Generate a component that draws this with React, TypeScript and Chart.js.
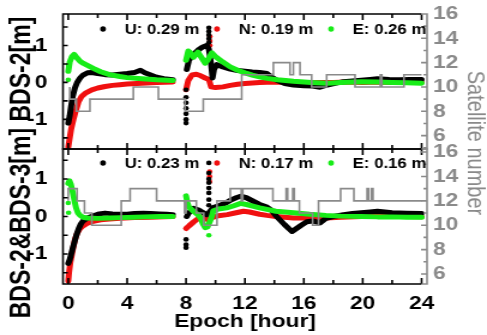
import React, { useEffect, useRef } from 'react';
import { Chart, registerables } from 'chart.js';
Chart.register(...registerables);

type P = [number, number | null];

// ---------- tick values ----------
const hourTickLabels = [0, 4, 8, 12, 16, 20, 24];
const hourMinorTicks = [0, 2, 4, 6, 8, 10, 12, 14, 16, 18, 20, 22, 24];
const errTickLabels = [-1, 0, 1];
const errMinorTicks = [-1.5, -1, -0.5, 0, 0.5, 1, 1.5];
const satTickLabels = [6, 8, 10, 12, 14, 16];
const satMinorTicks = [5, 6, 7, 8, 9, 10, 11, 12, 13, 14, 15, 16];

// ---------- legend labels ----------
const legendTop = ['U: 0.29 m', 'N: 0.19 m', 'E: 0.26 m'];
const legendBottom = ['U: 0.23 m', 'N: 0.17 m', 'E: 0.16 m'];

// ---------- top panel (BDS-2) ----------
const topU: P[] = [[0.0,-1.1],[0.1,-0.9],[0.2,-0.62],[0.3,-0.38],[0.45,-0.15],[0.6,0.0],[0.8,0.12],[1.0,0.2],[1.3,0.26],[1.6,0.27],[2.0,0.24],[2.5,0.21],[3.0,0.2],[3.5,0.22],[4.0,0.24],[4.5,0.27],[4.9,0.33],[5.2,0.26],[5.6,0.2],[6.0,0.14],[6.5,0.1],[7.1,0.07],[7.5,null],[8.05,0.35],[8.2,0.6],[8.5,0.75],[8.8,0.87],[9.1,0.95],[9.4,1.0],[9.55,0.9],[9.7,0.5],[9.8,0.12],[9.9,0.35],[10.1,0.48],[10.5,0.42],[11.0,0.36],[11.5,0.32],[12.0,0.3],[12.5,0.28],[13.0,0.27],[13.5,0.24],[13.8,0.15],[14.2,0.05],[14.7,-0.03],[15.3,-0.07],[16.0,-0.09],[16.6,-0.1],[17.1,-0.13],[17.6,-0.07],[18.2,-0.02],[18.7,0.02],[19.3,0.04],[19.9,0.06],[20.5,0.08],[21.0,0.1],[21.8,0.08],[22.5,0.07],[23.2,0.08],[24.0,0.08]];
const topN: P[] = [[0.0,-1.75],[0.1,-1.5],[0.2,-1.25],[0.35,-1.0],[0.5,-0.78],[0.7,-0.52],[0.9,-0.38],[1.2,-0.28],[1.6,-0.2],[2.0,-0.15],[2.5,-0.11],[3.0,-0.08],[3.5,-0.06],[4.0,-0.04],[5.0,-0.02],[6.0,0.0],[7.1,0.01],[7.5,null],[8.0,-0.2],[8.15,0.05],[8.4,0.2],[8.7,0.22],[9.0,0.18],[9.3,0.12],[9.55,0.08],[9.7,-0.12],[10.0,-0.14],[10.5,-0.12],[11.0,-0.08],[11.5,-0.05],[12.0,-0.03],[13.0,0.0],[14.0,0.01],[15.0,0.0],[16.0,-0.01],[17.0,0.0],[18.0,0.0],[19.0,0.01],[20.0,0.0],[21.0,0.01],[22.0,0.0],[23.0,0.01],[24.0,0.0]];
const topE: P[] = [[0.0,0.3],[0.1,0.55],[0.25,0.7],[0.4,0.76],[0.6,0.66],[0.8,0.57],[1.0,0.52],[1.3,0.46],[1.7,0.38],[2.2,0.29],[2.8,0.21],[3.5,0.16],[4.0,0.13],[5.0,0.1],[6.0,0.07],[7.1,0.05],[7.5,null],[8.0,0.6],[8.15,0.85],[8.3,0.8],[8.5,0.68],[8.8,0.82],[9.0,0.7],[9.3,0.52],[9.5,0.62],[9.75,0.8],[10.0,0.7],[10.5,0.55],[11.0,0.42],[11.5,0.33],[12.0,0.26],[12.5,0.2],[13.0,0.15],[13.5,0.11],[14.2,0.07],[15.3,0.03],[16.5,0.0],[17.6,-0.02],[18.5,0.0],[19.9,0.02],[21.0,0.01],[22.0,0.0],[23.0,-0.01],[24.0,-0.02]];
const topUOut: P[] = [[8.0,-0.2],[8.0,-0.4],[8.0,-0.55],[8.0,-0.7],[8.0,-0.85],[8.0,-1.0],[8.0,-1.1],[9.55,1.48],[9.55,1.38],[9.55,1.28],[9.55,1.18],[9.55,1.08]];
const topNOut: P[] = [[9.62,1.24],[9.62,1.12],[9.62,1.0]];
const topEOut: P[] = [[0.0,0.07],[0.02,0.45]];
const topSat: P[] = [[0.1,10],[0.55,9],[1.47,8],[4.42,9],[6.12,10],[7.93,9],[9.17,8],[11.78,9],[13.93,11],[15.06,12],[15.29,11],[15.74,12],[16.53,11],[17.55,10],[19.48,11],[21.2,10],[21.3,11],[22.8,10],[23.5,11],[24.0,11]];

// ---------- bottom panel (BDS-2&BDS-3) ----------
const botU: P[] = [[0.0,-1.25],[0.1,-1.15],[0.2,-1.0],[0.3,-0.85],[0.42,-0.68],[0.55,-0.5],[0.7,-0.33],[0.85,-0.2],[1.0,-0.12],[1.3,-0.04],[1.7,0.02],[2.1,0.07],[2.5,0.09],[3.0,0.07],[3.5,0.06],[4.0,0.06],[4.5,0.08],[5.1,0.09],[5.6,0.08],[6.2,0.07],[6.7,0.06],[7.1,0.05],[7.5,null],[8.05,0.0],[8.2,0.1],[8.5,0.22],[8.8,0.18],[9.0,0.14],[9.4,0.05],[9.55,0.1],[9.85,0.24],[10.3,0.3],[10.7,0.36],[11.0,0.43],[11.4,0.5],[11.7,0.54],[12.1,0.5],[12.5,0.42],[13.0,0.32],[13.5,0.25],[13.8,0.17],[14.1,0.02],[14.4,-0.1],[14.7,-0.22],[15.0,-0.33],[15.2,-0.4],[15.5,-0.32],[15.8,-0.24],[16.2,-0.14],[16.6,-0.12],[17.1,-0.17],[17.5,-0.05],[18.0,0.0],[18.7,0.05],[19.3,0.08],[19.9,0.1],[20.5,0.12],[21.0,0.14],[21.5,0.12],[22.0,0.1],[23.0,0.09],[24.0,0.08]];
const botN: P[] = [[0.0,-1.72],[0.05,-1.5],[0.15,-1.2],[0.3,-0.9],[0.45,-0.62],[0.6,-0.45],[0.8,-0.32],[1.0,-0.25],[1.3,-0.18],[1.7,-0.13],[2.2,-0.09],[2.8,-0.07],[3.5,-0.05],[4.5,-0.03],[5.5,-0.02],[6.5,-0.01],[7.1,0.0],[7.5,null],[8.0,-0.32],[8.2,-0.25],[8.5,-0.15],[8.8,-0.06],[9.0,-0.03],[9.3,-0.06],[9.5,-0.08],[9.75,-0.03],[10.2,0.02],[10.8,0.05],[11.4,0.1],[11.9,0.14],[12.3,0.12],[13.0,0.06],[13.5,0.03],[14.1,0.0],[14.7,-0.02],[15.3,-0.04],[16.0,-0.04],[16.8,-0.05],[17.5,-0.04],[18.5,-0.02],[19.9,0.0],[21.0,0.0],[22.0,0.0],[23.0,0.0],[24.0,-0.01]];
const botE: P[] = [[0.0,0.88],[0.08,0.95],[0.18,0.85],[0.3,0.65],[0.42,0.42],[0.53,0.23],[0.65,0.1],[0.8,0.03],[1.0,-0.02],[1.3,-0.04],[2.0,-0.05],[2.8,-0.04],[3.5,-0.03],[4.5,-0.02],[5.1,-0.01],[6.2,0.0],[7.1,0.0],[7.5,null],[8.0,0.55],[8.1,0.35],[8.2,0.25],[8.5,0.14],[8.8,0.05],[9.0,-0.05],[9.15,-0.2],[9.3,-0.3],[9.45,-0.28],[9.6,-0.15],[9.75,0.0],[9.85,0.15],[10.2,0.2],[10.76,0.23],[11.2,0.28],[11.7,0.35],[12.1,0.32],[12.6,0.27],[13.0,0.23],[13.5,0.19],[14.1,0.14],[14.7,0.12],[15.3,0.1],[16.4,0.06],[17.5,0.03],[18.5,0.01],[19.9,0.0],[21.0,-0.01],[22.0,-0.01],[23.0,-0.02],[24.0,-0.02]];
const botUOut: P[] = [[8.0,-0.61],[8.0,-0.75],[8.0,-0.83],[9.55,1.43],[9.55,1.16],[9.55,1.0],[9.55,0.9],[9.55,0.76],[9.55,0.63],[9.55,0.45],[9.55,0.3]];
const botNOut: P[] = [[9.6,1.2],[9.6,1.07],[9.6,0.93]];
const botEOut: P[] = [[0.0,0.36],[0.02,0.1],[9.55,-0.5]];
const botSat: P[] = [[0.0,12],[0.6,13],[1.1,12],[1.6,11],[3.6,10],[4.2,12],[6.0,13],[7.9,12],[8.0,11],[8.7,12],[9.2,11],[10.1,10],[11.0,12],[11.75,13],[11.85,12],[13.9,13],[14.8,12],[14.9,13],[15.25,12],[15.35,13],[15.7,12],[16.6,11],[17.0,10],[18.5,12],[19.4,13],[20.3,12],[20.4,13],[20.6,12],[20.7,13],[23.1,12],[24.0,12]];

const BLACK = '#000000';
const RED = '#f01010';
const GREEN = '#18ec18';
const GREY = '#8a8a8a';
const FONT = '"Liberation Sans", Arial, sans-serif';

const toXY = (arr: P[]) => arr.map(([x, y]) => ({ x, y }));

const framePlugin = {
  id: 'frame',
  afterDatasetsDraw(chart: any, _a: any, o: any) {
    const ctx = chart.ctx;
    const xs = chart.scales.x;
    const L = xs.left, R = xs.right;
    const xe = xs.getPixelForValue(24);
    for (const p of o.panels) {
      const ys = chart.scales[p.y];
      const rs = chart.scales[p.r];
      const T = ys.top, B = ys.bottom;
      ctx.save();
      ctx.lineWidth = 1.6;
      ctx.strokeStyle = '#000';
      ctx.beginPath();
      ctx.moveTo(xe, T); ctx.lineTo(L, T); ctx.lineTo(L, B); ctx.lineTo(xe, B);
      for (const v of hourMinorTicks) {
        const px = xs.getPixelForValue(v);
        const len = v % 4 === 0 ? 6 : 4;
        ctx.moveTo(px, T); ctx.lineTo(px, T + len);
        ctx.moveTo(px, B); ctx.lineTo(px, B - len);
      }
      for (const v of errMinorTicks) {
        const py = ys.getPixelForValue(v);
        ctx.moveTo(L, py); ctx.lineTo(L + 4, py);
      }
      ctx.stroke();
      ctx.strokeStyle = GREY;
      ctx.beginPath();
      ctx.moveTo(xe, T); ctx.lineTo(R, T); ctx.lineTo(R, B); ctx.lineTo(xe, B);
      for (const v of satMinorTicks) {
        const py = rs.getPixelForValue(v);
        if (py < T - 0.5 || py > B + 0.5) continue;
        ctx.moveTo(R, py); ctx.lineTo(R - (v % 2 === 0 ? 5 : 3), py);
      }
      ctx.stroke();
      ctx.restore();
    }
  },
};

const legendPlugin = {
  id: 'panelLegend',
  afterDatasetsDraw(chart: any, _a: any, o: any) {
    const ctx = chart.ctx;
    const xs = chart.scales.x;
    ctx.save();
    ctx.font = `bold 14px ${FONT}`;
    ctx.textBaseline = 'middle';
    ctx.textAlign = 'left';
    for (const p of o.panels) {
      const ys = chart.scales[p.y];
      const y = ys.top + p.dy;
      p.labels.forEach((text: string, i: number) => {
        const mx = xs.left + o.offsets[i];
        ctx.fillStyle = p.colors[i];
        ctx.beginPath();
        ctx.ellipse(mx, y, 2.4, 2.8, 0, 0, Math.PI * 2);
        ctx.fill();
        ctx.fillStyle = '#000';
        ctx.fillText(text, mx + o.gap, y + 1);
      });
    }
    ctx.restore();
  },
};

const titlesPlugin = {
  id: 'sideTitles',
  afterDraw(chart: any, _a: any, o: any) {
    const ctx = chart.ctx;
    for (const t of o.items) {
      ctx.save();
      ctx.translate(t.x, t.y);
      ctx.rotate(t.rot);
      ctx.font = t.font;
      ctx.fillStyle = t.color;
      ctx.textAlign = 'center';
      ctx.textBaseline = 'middle';
      ctx.fillText(t.text, 0, 0);
      ctx.restore();
    }
  },
};

const lineDs = (label: string, data: P[], yAxisID: string, color: string, order: number) => ({
  type: 'line' as const,
  label,
  data: toXY(data),
  yAxisID,
  xAxisID: 'x',
  borderColor: color,
  backgroundColor: color,
  borderWidth: 5,
  borderCapStyle: 'round',
  borderJoinStyle: 'round',
  pointRadius: 0,
  tension: 0,
  spanGaps: false,
  order,
});

const dotDs = (data: P[], yAxisID: string, color: string, order: number) => ({
  type: 'scatter' as const,
  label: '',
  data: toXY(data),
  yAxisID,
  xAxisID: 'x',
  borderColor: color,
  backgroundColor: color,
  pointRadius: 2.3,
  pointBorderWidth: 0,
  showLine: false,
  order,
});

const satDs = (data: P[], yAxisID: string) => ({
  type: 'line' as const,
  label: '',
  data: toXY(data),
  yAxisID,
  xAxisID: 'x',
  borderColor: GREY,
  borderWidth: 1.6,
  pointRadius: 0,
  stepped: 'after',
  order: 0,
});

const fixTicks = (vals: number[]) => (s: any) => {
  s.ticks = vals.map((v) => ({ value: v }));
};

const fitSize = (w: number | null, h: number | null) => (s: any) => {
  if (w !== null) s.width = w;
  if (h !== null) s.height = h;
  s.paddingTop = 0;
  s.paddingBottom = 0;
  s.paddingLeft = 0;
  s.paddingRight = 0;
};

export default function App() {
  const ref = useRef<HTMLCanvasElement | null>(null);
  useEffect(() => {
    if (!ref.current) return;
    const tickFont = { family: FONT, size: 19, weight: 'bold' as const };
    const leftAxis = (min: number, max: number, weight: number) => ({
      type: 'linear',
      position: 'left',
      stack: 'err',
      stackWeight: 1,
      weight,
      min,
      max,
      afterBuildTicks: fixTicks(errTickLabels),
      afterFit: fitSize(52.5, null),
      grid: { display: false, drawTicks: false },
      border: { display: false },
      ticks: { font: tickFont, color: '#000', padding: 13, autoSkip: false },
    });
    const rightAxis = (min: number, max: number, weight: number) => ({
      type: 'linear',
      position: 'right',
      stack: 'sat',
      stackWeight: 1,
      weight,
      min,
      max,
      afterBuildTicks: fixTicks(satTickLabels),
      afterFit: fitSize(50, null),
      grid: { display: false, drawTicks: false },
      border: { display: false },
      ticks: { font: tickFont, color: GREY, padding: 5, autoSkip: false },
    });
    const chart = new Chart(ref.current, {
      type: 'line',
      data: {
        datasets: [
          satDs(topSat, 'rT'),
          lineDs(legendTop[2], topE, 'yT', GREEN, 1),
          lineDs(legendTop[0], topU, 'yT', BLACK, 2),
          lineDs(legendTop[1], topN, 'yT', RED, 3),
          dotDs(topEOut, 'yT', GREEN, 1),
          dotDs(topUOut, 'yT', BLACK, 2),
          dotDs(topNOut, 'yT', RED, 3),
          satDs(botSat, 'rB'),
          lineDs(legendBottom[2], botE, 'yB', GREEN, 1),
          lineDs(legendBottom[0], botU, 'yB', BLACK, 2),
          lineDs(legendBottom[1], botN, 'yB', RED, 3),
          dotDs(botEOut, 'yB', GREEN, 1),
          dotDs(botUOut, 'yB', BLACK, 2),
          dotDs(botNOut, 'yB', RED, 3),
        ] as any,
      },
      options: {
        responsive: false,
        animation: false,
        devicePixelRatio: 1,
        layout: { padding: { top: 14, left: 0, right: 0, bottom: 0 } },
        scales: {
          x: {
            type: 'linear',
            position: 'bottom',
            min: -0.36,
            max: 24.37,
            afterBuildTicks: fixTicks(hourTickLabels),
            afterFit: fitSize(null, 51),
            grid: { display: false, drawTicks: false },
            border: { display: false },
            ticks: { font: tickFont, color: '#000', padding: 8, maxRotation: 0, autoSkip: false },
            title: { display: true, text: 'Epoch [hour]', color: '#000', font: { family: FONT, size: 19, weight: 'bold' }, padding: { top: 0, bottom: 2 } },
          },
          yT: leftAxis(-1.8, 1.85, 1),
          yB: leftAxis(-1.8, 1.8, 0),
          rT: rightAxis(4.9, 16, 0),
          rB: rightAxis(5.18, 16.25, 1),
        } as any,
        plugins: {
          legend: { display: false },
          tooltip: { enabled: false },
          frame: { panels: [{ y: 'yT', r: 'rT' }, { y: 'yB', r: 'rB' }] },
          panelLegend: {
            offsets: [33.4, 128.4, 223.5],
            gap: 18,
            panels: [
              { y: 'yT', dy: 15, labels: legendTop, colors: [BLACK, RED, GREEN] },
              { y: 'yB', dy: 14, labels: legendBottom, colors: [BLACK, RED, GREEN] },
            ],
          },
          sideTitles: {
            items: [
              { text: 'BDS-2&BDS-3[m] BDS-2[m]', x: 18.8, y: 167.5, rot: -Math.PI / 2, font: `bold 23px ${FONT}`, color: '#000' },
              { text: 'Satellite number', x: 396, y: 143, rot: Math.PI / 2, font: `20px ${FONT}`, color: GREY },
            ],
          },
        } as any,
      },
      plugins: [framePlugin, legendPlugin, titlesPlugin],
    });
    return () => chart.destroy();
  }, []);
  return (
    <div style={{ position: 'absolute', left: 0, top: 0, width: 487, height: 335, background: '#fff' }}>
      <canvas ref={ref} width={406} height={335} style={{ width: '487px', height: '335px', display: 'block' }} />
    </div>
  );
}
